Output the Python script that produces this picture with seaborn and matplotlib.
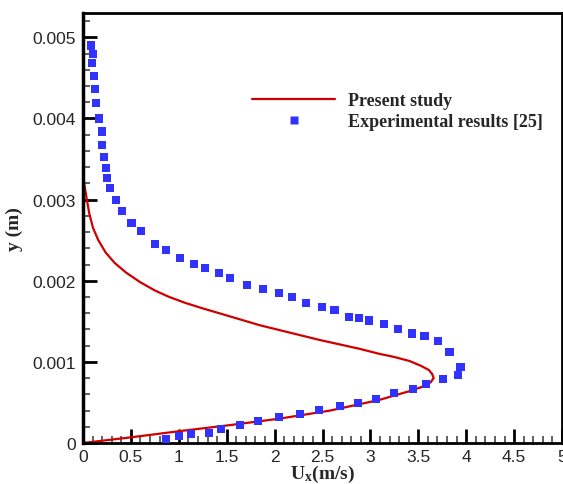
import matplotlib
matplotlib.use("Agg")
import matplotlib.pyplot as plt
import seaborn as sns
import numpy as np
import pandas as pd
from matplotlib.lines import Line2D
from matplotlib.ticker import MultipleLocator

# Present study (numerical profile)
sim_u = [0, 0.5, 1.0, 1.53, 2.05, 2.58, 3.09, 3.41, 3.51, 3.58, 3.63, 3.66, 3.645, 3.61,
         3.53, 3.41, 3.25, 3.09, 2.89, 2.47, 2.16, 1.85, 1.535, 1.22, 1.06, 0.90, 0.75,
         0.60, 0.45, 0.33, 0.235, 0.16, 0.105, 0.065, 0.04, 0.022, 0.005]
sim_y = [0, 0.00007, 0.000145, 0.00022, 0.0003, 0.0004, 0.00053, 0.00064, 0.00068,
         0.00071, 0.00075, 0.0008, 0.00085, 0.0009, 0.00095, 0.00101, 0.00106, 0.0011,
         0.00116, 0.00127, 0.00136, 0.00145, 0.00156, 0.00167, 0.00173, 0.0018, 0.00188,
         0.00198, 0.0021, 0.00222, 0.00235, 0.0025, 0.00265, 0.00283, 0.003, 0.00313,
         0.00325]

# Experimental results [25]
exp_u = [0.087, 0.10, 0.097, 0.118, 0.128, 0.139, 0.17, 0.20, 0.20, 0.222, 0.243, 0.253,
         0.284, 0.347, 0.41, 0.506, 0.607, 0.753, 0.864, 1.013, 1.16, 1.274, 1.42, 1.534,
         1.711, 1.878, 2.048, 2.18, 2.327, 2.493, 2.625, 2.774, 2.878, 2.99, 3.139, 3.284,
         3.43, 3.565, 3.71, 3.826, 3.94, 3.91, 3.76, 3.576, 3.44, 3.243, 3.055, 2.868, 2.68,
         2.463, 2.265, 2.045, 1.827, 1.64, 1.44, 1.316, 1.128, 1.0, 0.868]
exp_y = [0.00490, 0.00479, 0.00468, 0.00452, 0.00436, 0.00419, 0.00400, 0.00384, 0.00367,
         0.00352, 0.00339, 0.00327, 0.00314, 0.00300, 0.00286, 0.00271, 0.00261, 0.00245,
         0.00238, 0.00228, 0.00221, 0.00216, 0.00210, 0.00203, 0.00195, 0.00190, 0.00185,
         0.00180, 0.00173, 0.00168, 0.00164, 0.00155, 0.00154, 0.00151, 0.00147, 0.00140,
         0.00135, 0.00132, 0.00126, 0.00112, 0.000935, 0.000836, 0.000786, 0.000725,
         0.000663, 0.000614, 0.00054, 0.00049, 0.000453, 0.000404, 0.000354, 0.000317,
         0.000268, 0.000219, 0.000175, 0.000125, 0.000112, 0.000085, 0.00005]

x_ticks = [0, 0.5, 1, 1.5, 2, 2.5, 3, 3.5, 4, 4.5, 5]
x_tick_labels = ["0", "0.5", "1", "1.5", "2", "2.5", "3", "3.5", "4", "4.5", "5"]
y_ticks = [0, 0.001, 0.002, 0.003, 0.004, 0.005]
y_tick_labels = ["0", "0.001", "0.002", "0.003", "0.004", "0.005"]

sns.set_style("white")
plt.rcParams["font.family"] = ["Liberation Sans", "DejaVu Sans"]
plt.rcParams["mathtext.fontset"] = "custom"
plt.rcParams["mathtext.rm"] = "Liberation Serif:bold"
plt.rcParams["mathtext.bf"] = "Liberation Serif:bold"
plt.rcParams["mathtext.it"] = "Liberation Serif:bold"

fig = plt.figure(figsize=(5.63, 4.85), dpi=100)
ax = fig.add_axes([83/563, 1-444/485, (562-83)/563, (444-14)/485])

red = "#d00000"
blue = "#3232ff"

sim = pd.DataFrame({"u": sim_u, "y": sim_y})
exp = pd.DataFrame({"u": exp_u, "y": exp_y})

sns.lineplot(data=sim, x="u", y="y", sort=False, estimator=None, color=red, lw=1.6, ax=ax)
sns.scatterplot(data=exp, x="u", y="y", marker="s", color=blue, s=34, edgecolor="none",
                linewidth=0, ax=ax, zorder=3)

ax.set_xlim(0, 5)
ax.set_ylim(0, 0.0053)
ax.set_xticks(x_ticks)
ax.set_xticklabels(x_tick_labels)
ax.set_yticks(y_ticks)
ax.set_yticklabels(y_tick_labels)
ax.xaxis.set_minor_locator(MultipleLocator(0.1))
ax.yaxis.set_minor_locator(MultipleLocator(0.0002))

ax.tick_params(axis="both", which="major", direction="in", length=10, width=2,
               labelsize=12.5, color="black", top=False, right=False)
ax.tick_params(axis="x", which="major", pad=4)
ax.tick_params(axis="y", which="major", pad=5)
ax.tick_params(axis="both", which="minor", direction="in", length=5, width=1.3,
               color="#555555", top=False, right=False)
ax.tick_params(axis="both", which="both", bottom=True, left=True)

for side in ["left", "bottom", "top", "right"]:
    ax.spines[side].set_color("black")
    ax.spines[side].set_linewidth(2)
ax.spines["left"].set_linewidth(2.5)

ax.set_xlabel(r"$\mathbf{U_x}$(m/s)", family="Liberation Serif", fontweight="bold",
              fontsize=14)
ax.xaxis.set_label_coords(0.5, -(464 - 444) / 430)
ax.set_ylabel("y (m)", family="Liberation Serif", fontweight="bold", fontsize=14,
              labelpad=7)

handles = [Line2D([0], [0], color=red, lw=1.6),
           Line2D([0], [0], color=blue, marker="s", ls="none", markersize=6, mec="none")]
leg = ax.legend(handles, ["Present study", "Experimental results [25]"],
                loc="upper left", bbox_to_anchor=(252/563, 1-93/485),
                bbox_transform=fig.transFigure, frameon=False, borderaxespad=0,
                borderpad=0, handlelength=4.6, handletextpad=0.72, labelspacing=0.22,
                prop=dict(family="Liberation Serif", weight="bold", size=13))

fig.savefig("out.png", dpi=100)
